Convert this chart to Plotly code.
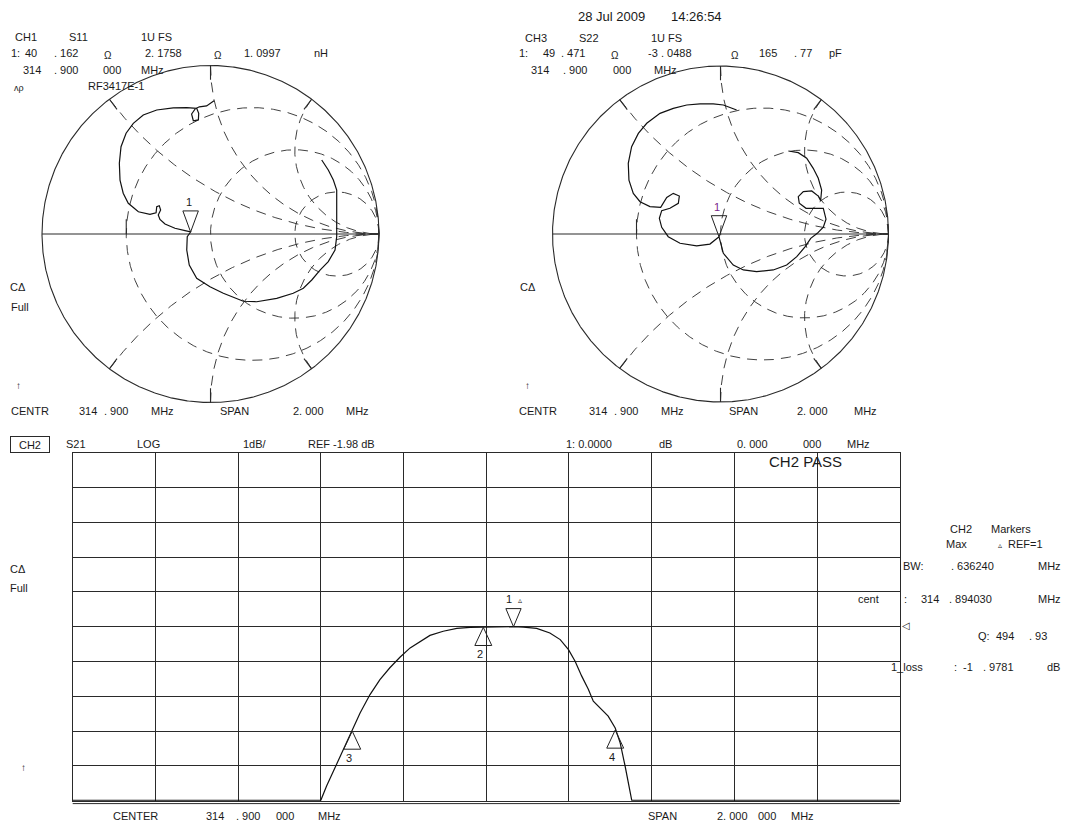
import numpy as np
import plotly.graph_objects as go

W, H = 1071, 826          # browser window
OX, OY = 8, 8             # default page margin of the html body
FW, FH = W - OX, H - OY   # figure size
FONT = "Liberation Sans, Arial, sans-serif"
TXT = "#1a1a1a"
LINE = "#2a2a2a"

# ---------------- data ----------------
# S11 trace, reflection coefficient (re, im)
S11_GAMMA = [
    (0.021, 0.791), (-0.023, 0.760), (-0.066, 0.755), (-0.090, 0.744), (-0.112, 0.712),
    (-0.102, 0.672), (-0.072, 0.677), (-0.070, 0.716), (-0.082, 0.746), (-0.141, 0.750),
    (-0.221, 0.748), (-0.319, 0.736), (-0.399, 0.706), (-0.458, 0.657), (-0.501, 0.598),
    (-0.531, 0.518), (-0.541, 0.420), (-0.537, 0.320), (-0.518, 0.242), (-0.488, 0.182),
    (-0.428, 0.132), (-0.359, 0.117), (-0.323, 0.126), (-0.319, 0.162), (-0.304, 0.168),
    (-0.296, 0.142), (-0.310, 0.113), (-0.300, 0.087), (-0.270, 0.059), (-0.211, 0.034),
    (-0.151, 0.020), (-0.118, 0.012), (-0.138, -0.016), (-0.141, -0.095), (-0.126, -0.184),
    (-0.082, -0.263), (-0.003, -0.313), (0.076, -0.352), (0.195, -0.399), (0.274, -0.402),
    (0.393, -0.382), (0.491, -0.352), (0.551, -0.322), (0.601, -0.273), (0.650, -0.214),
    (0.699, -0.164), (0.739, -0.095), (0.749, -0.016), (0.749, 0.123), (0.749, 0.261),
    (0.729, 0.320), (0.699, 0.380), (0.660, 0.439),
]
# S22 trace, reflection coefficient (re, im)
S22_GAMMA = [
    (0.096, 0.738), (0.017, 0.768), (-0.043, 0.774), (-0.122, 0.774), (-0.201, 0.768),
    (-0.281, 0.748), (-0.360, 0.718), (-0.439, 0.659), (-0.489, 0.599), (-0.529, 0.520),
    (-0.549, 0.421), (-0.545, 0.321), (-0.519, 0.242), (-0.479, 0.192), (-0.420, 0.163),
    (-0.356, 0.159), (-0.320, 0.218), (-0.281, 0.242), (-0.245, 0.226), (-0.251, 0.183),
    (-0.301, 0.153), (-0.350, 0.139), (-0.364, 0.093), (-0.350, 0.040), (-0.311, -0.016),
    (-0.241, -0.055), (-0.142, -0.071), (-0.063, -0.060), (-0.009, -0.016), (-0.003, -0.036),
    (0.017, -0.115), (0.076, -0.185), (0.136, -0.214), (0.215, -0.224), (0.314, -0.214),
    (0.394, -0.185), (0.454, -0.135), (0.503, -0.076), (0.537, -0.026), (0.576, 0.004),
    (0.612, 0.040), (0.628, 0.088), (0.612, 0.153), (0.563, 0.153), (0.509, 0.153),
    (0.469, 0.183), (0.463, 0.222), (0.493, 0.252), (0.543, 0.256), (0.582, 0.226),
    (0.596, 0.198), (0.602, 0.262), (0.582, 0.332), (0.552, 0.391), (0.513, 0.451),
    (0.463, 0.484), (0.404, 0.494),
]
S11_MARKER = (-0.118, 0.012)
S22_MARKER = (-0.009, -0.016)

# Smith graticule values
R_GRID = [1 / 3, 1, 3]
X_GRID = [0.5, 1, 2]

# S21 trace (log mag, dB) vs frequency (MHz)
F_MHZ = [313.900, 314.500, 314.514, 314.534, 314.555, 314.575, 314.595, 314.619, 314.643,
         314.667, 314.692, 314.716, 314.740, 314.764, 314.796, 314.829, 314.861, 314.900,
         314.925, 314.966, 314.990, 315.022, 315.054, 315.079, 315.099, 315.115, 315.131,
         315.147, 315.159, 315.175, 315.195, 315.212, 315.224, 315.236, 315.244, 315.252,
         315.900]
S21_DB = [-6.97, -6.97, -6.56, -6.04, -5.46, -4.98, -4.46, -3.93, -3.50,
          -3.16, -2.85, -2.59, -2.40, -2.23, -2.11, -2.03, -2.00, -1.99,
          -1.98, -1.98, -1.99, -2.03, -2.16, -2.35, -2.64, -2.97, -3.40,
          -3.78, -4.12, -4.31, -4.55, -4.89, -5.32, -5.99, -6.47, -6.97,
          -6.97]
MARKER_F = [314.966, 314.893, 314.576, 315.212]
MARKER_DB = [-1.98, -2.00, -4.98, -4.95]
MARKER_LABELS = ["1", "2", "3", "4"]

CENTER_MHZ = 314.9
SPAN_MHZ = 2.0
REF_DB = -1.98
DB_PER_DIV = 1.0

# ---------------- layout geometry (window pixels) ----------------
SMITH = [dict(cx=210.5, cy=234.0, R=168.5), dict(cx=720.5, cy=234.0, R=168.0)]
LIM = 1.05
GX0, GX1, GY0, GY1 = 72.7, 899.7, 452.7, 800.7


def px(x):
    return (x - OX) / FW


def py(y):
    return 1 - (y - OY) / FH


fig = go.Figure()


def add_line(x, y, xa, ya, dash="solid", width=1.0, color=LINE):
    fig.add_trace(go.Scatter(x=x, y=y, mode="lines", xaxis=xa, yaxis=ya,
                             line=dict(color=color, width=width, dash=dash),
                             hoverinfo="skip", showlegend=False))


def smith_grid(xa, ya):
    th = np.linspace(0, 2 * np.pi, 721)
    add_line(np.cos(th), np.sin(th), xa, ya, width=1.1)
    add_line([-1, 1], [0, 0], xa, ya, width=1.1)
    dash = "10px,7px"
    for r in R_GRID:
        c, rad = r / (1 + r), 1 / (1 + r)
        add_line(c + rad * np.cos(th), rad * np.sin(th), xa, ya, dash=dash, width=0.9)
    for xv in X_GRID:
        for s in (1, -1):
            cy, rad = s / xv, 1 / xv
            ex, ey = (xv ** 2 - 1) / (xv ** 2 + 1), s * 2 * xv / (xv ** 2 + 1)
            a1 = np.arctan2(s * (ey - cy), ex - 1)
            if a1 > 0:
                a1 -= 2 * np.pi
            a = np.linspace(a1, -np.pi / 2, 300)
            add_line(1 + rad * np.cos(a), cy + s * rad * np.sin(a), xa, ya, dash=dash, width=0.9)
            L = 0.085 if xv == 1 else 0.075
            add_line([ex, ex * (1 - L)], [ey, ey * (1 - L)], xa, ya, width=1.1)
    g = (R_GRID[0] - 1) / (R_GRID[0] + 1)
    add_line([g, g], [0, 0.088], xa, ya, width=1.1)


AX = [("x", "y"), ("x2", "y2")]
for i, (gam, mk, lab_col) in enumerate([(S11_GAMMA, S11_MARKER, TXT), (S22_GAMMA, S22_MARKER, "#7a1f8a")]):
    xa, ya = AX[i]
    smith_grid(xa, ya)
    add_line([p[0] for p in gam], [p[1] for p in gam], xa, ya, width=1.2, color="#111")
    w, h = 0.046, 0.125
    mx, my = mk
    add_line([mx, mx - w, mx + w, mx], [my, my + h, my + h, my], xa, ya, width=1.0, color="#222")
    fig.add_annotation(x=mx - 0.01, y=my + h + 0.005, xref=xa, yref=ya, text="1", showarrow=False,
                       yanchor="bottom", font=dict(family=FONT, size=11, color=lab_col))

# ---- S21 log-mag plot ----
add_line(F_MHZ, S21_DB, "x3", "y3", width=1.2, color="#111")
tw = 0.0205
th_db = 0.52
for f, d, lab in zip(MARKER_F, MARKER_DB, MARKER_LABELS):
    if lab == "1":
        add_line([f, f - 0.9 * tw, f + 0.9 * tw, f], [d, d + th_db, d + th_db, d], "x3", "y3", width=1.0, color="#222")
        fig.add_annotation(x=f - 0.012, y=d + th_db + 0.05, xref="x3", yref="y3", text="1", showarrow=False,
                           yanchor="bottom", font=dict(family=FONT, size=11, color=TXT))
        fig.add_annotation(x=f + 0.016, y=d + th_db + 0.05, xref="x3", yref="y3", text="▵", showarrow=False,
                           yanchor="bottom", font=dict(family=FONT, size=8, color=TXT))
    else:
        add_line([f, f - tw, f + tw, f], [d, d - th_db, d - th_db, d], "x3", "y3", width=1.0, color="#222")
        fig.add_annotation(x=f - 0.008, y=d - th_db - 0.02, xref="x3", yref="y3", text=lab, showarrow=False,
                           yanchor="top", font=dict(family=FONT, size=11, color=TXT))

# ---------------- axes ----------------
lay = dict(width=FW, height=FH, margin=dict(l=0, r=0, t=0, b=0), paper_bgcolor="white",
           plot_bgcolor="rgba(0,0,0,0)", showlegend=False)
for i, s in enumerate(SMITH):
    half = LIM * s["R"]
    sfx = str(i + 1) if i else ""
    lay["xaxis" + sfx] = dict(domain=[px(s["cx"] - half), px(s["cx"] + half)], range=[-LIM, LIM],
                              visible=False, fixedrange=True, anchor="y" + sfx)
    lay["yaxis" + sfx] = dict(domain=[py(s["cy"] + half), py(s["cy"] - half)], range=[-LIM, LIM],
                              visible=False, fixedrange=True, anchor="x" + sfx)
lay["xaxis3"] = dict(domain=[px(GX0), px(GX1)], anchor="y3",
                     range=[CENTER_MHZ - SPAN_MHZ / 2, CENTER_MHZ + SPAN_MHZ / 2],
                     tick0=CENTER_MHZ - SPAN_MHZ / 2, dtick=SPAN_MHZ / 10, showticklabels=False, ticks="",
                     showgrid=True, gridcolor=LINE, gridwidth=1, zeroline=False,
                     showline=True, linecolor=LINE, linewidth=1, mirror=True, fixedrange=True)
lay["yaxis3"] = dict(domain=[py(GY1), py(GY0)], anchor="x3",
                     range=[REF_DB - 5 * DB_PER_DIV, REF_DB + 5 * DB_PER_DIV],
                     tick0=REF_DB - 5 * DB_PER_DIV, dtick=DB_PER_DIV, showticklabels=False, ticks="",
                     showgrid=True, gridcolor=LINE, gridwidth=1, zeroline=False,
                     showline=True, linecolor=LINE, linewidth=1, mirror=True, fixedrange=True)
fig.update_layout(**lay)

fig.add_shape(type="line", xref="paper", yref="paper", x0=px(GX0), x1=px(GX1),
              y0=py(803.6), y1=py(803.6), line=dict(color=LINE, width=1))

# ---------------- text ----------------


def T(x, y, s, size=11, color=TXT, yanchor="middle", **kw):
    fig.add_annotation(x=px(x), y=py(y), xref="paper", yref="paper", text=s, showarrow=False,
                       xanchor="left", yanchor=yanchor, borderpad=0,
                       font=dict(family=FONT, size=size, color=color), **kw)


# left header
for x, y, s in [(14, 37, "CH1"), (68, 37, "S11"), (140, 37, "1U FS"),
                (10, 53, "1:"), (24, 53, "40"), (53, 53, ". 162"), (144, 53, "2. 1758"),
                (243, 53, "1. 0997"), (313, 53, "nH"),
                (22, 70, "314"), (53, 70, ". 900"), (102, 70, "000"), (140, 70, "MHz"),
                (87, 86, "RF3417E-1")]:
    T(x, y, s)
T(103, 55, "Ω", 10)
T(213, 55, "Ω", 10)
T(13, 88, "ʌρ", 9)

# right header
T(577, 8, "28 Jul 2009", 13, yanchor="top")
T(670, 8, "14:26:54", 13, yanchor="top")
for x, y, s in [(524, 38, "CH3"), (578, 38, "S22"), (650, 38, "1U FS"),
                (518, 53, "1:"), (542, 53, "49"), (560, 53, ". 471"), (647, 53, "-3"),
                (660, 53, ". 0488"), (758, 53, "165"), (793, 53, ". 77"), (828, 53, "pF"),
                (530, 70, "314"), (562, 70, ". 900"), (612, 70, "000"), (653, 70, "MHz")]:
    T(x, y, s)
T(610, 55, "Ω", 10)
T(730, 55, "Ω", 10)

# side labels
T(9, 287, "CΔ")
T(10, 307, "Full")
T(15, 385, "↑", 10)
T(519, 287, "CΔ")
T(524, 385, "↑", 10)
T(9, 569, "CΔ")
T(9, 588, "Full")
T(20, 767, "↑", 10)

# smith footers
for x, s in [(10, "CENTR"), (78, "314"), (103, ". 900"), (150, "MHz"), (219, "SPAN"), (292, "2. 000"), (345, "MHz"),
             (518, "CENTR"), (588, "314"), (613, ". 900"), (660, "MHz"), (728, "SPAN"), (796, "2. 000"), (853, "MHz")]:
    T(x, 411, s)

# S21 header
fig.add_annotation(x=px(30), y=py(444), xref="paper", yref="paper", text="CH2", showarrow=False,
                   xanchor="center", yanchor="middle",
                   width=38, height=15, bordercolor=LINE, borderwidth=1, borderpad=0,
                   font=dict(family=FONT, size=11, color=TXT))
for x, s in [(65, "S21"), (136, "LOG"), (242, "1dB/"), (307, "REF -1.98 dB"), (565, "1: 0.0000"),
             (658, "dB"), (736, "0. 000"), (802, "000"), (846, "MHz")]:
    T(x, 444, s)
T(768, 462, "CH2 PASS", 15)

# marker panel
for x, y, s in [(949, 529, "CH2"), (990, 529, "Markers"), (945, 544, "Max"), (1007, 544, "REF=1"),
                (902, 566, "BW:"), (950, 566, ". 636240"), (1037, 566, "MHz"),
                (857, 599, "cent"), (903, 599, ":"), (920, 599, "314"), (948, 599, ". 894030"), (1037, 599, "MHz"),
                (977, 636, "Q:"), (995, 636, "494"), (1028, 636, ". 93"),
                (890, 667, "1_loss"), (953, 667, ":"), (962, 667, "-1"), (982, 667, ". 9781"), (1046, 667, "dB")]:
    T(x, y, s)
T(997, 545, "▵", 8)
T(901, 625, "◁", 10)

# S21 footer
for x, s in [(112, "CENTER"), (205, "314"), (235, ". 900"), (275, "000"), (317, "MHz"),
             (647, "SPAN"), (716, "2. 000"), (757, "000"), (790, "MHz")]:
    T(x, 816, s)

fig.write_html("out.html")
